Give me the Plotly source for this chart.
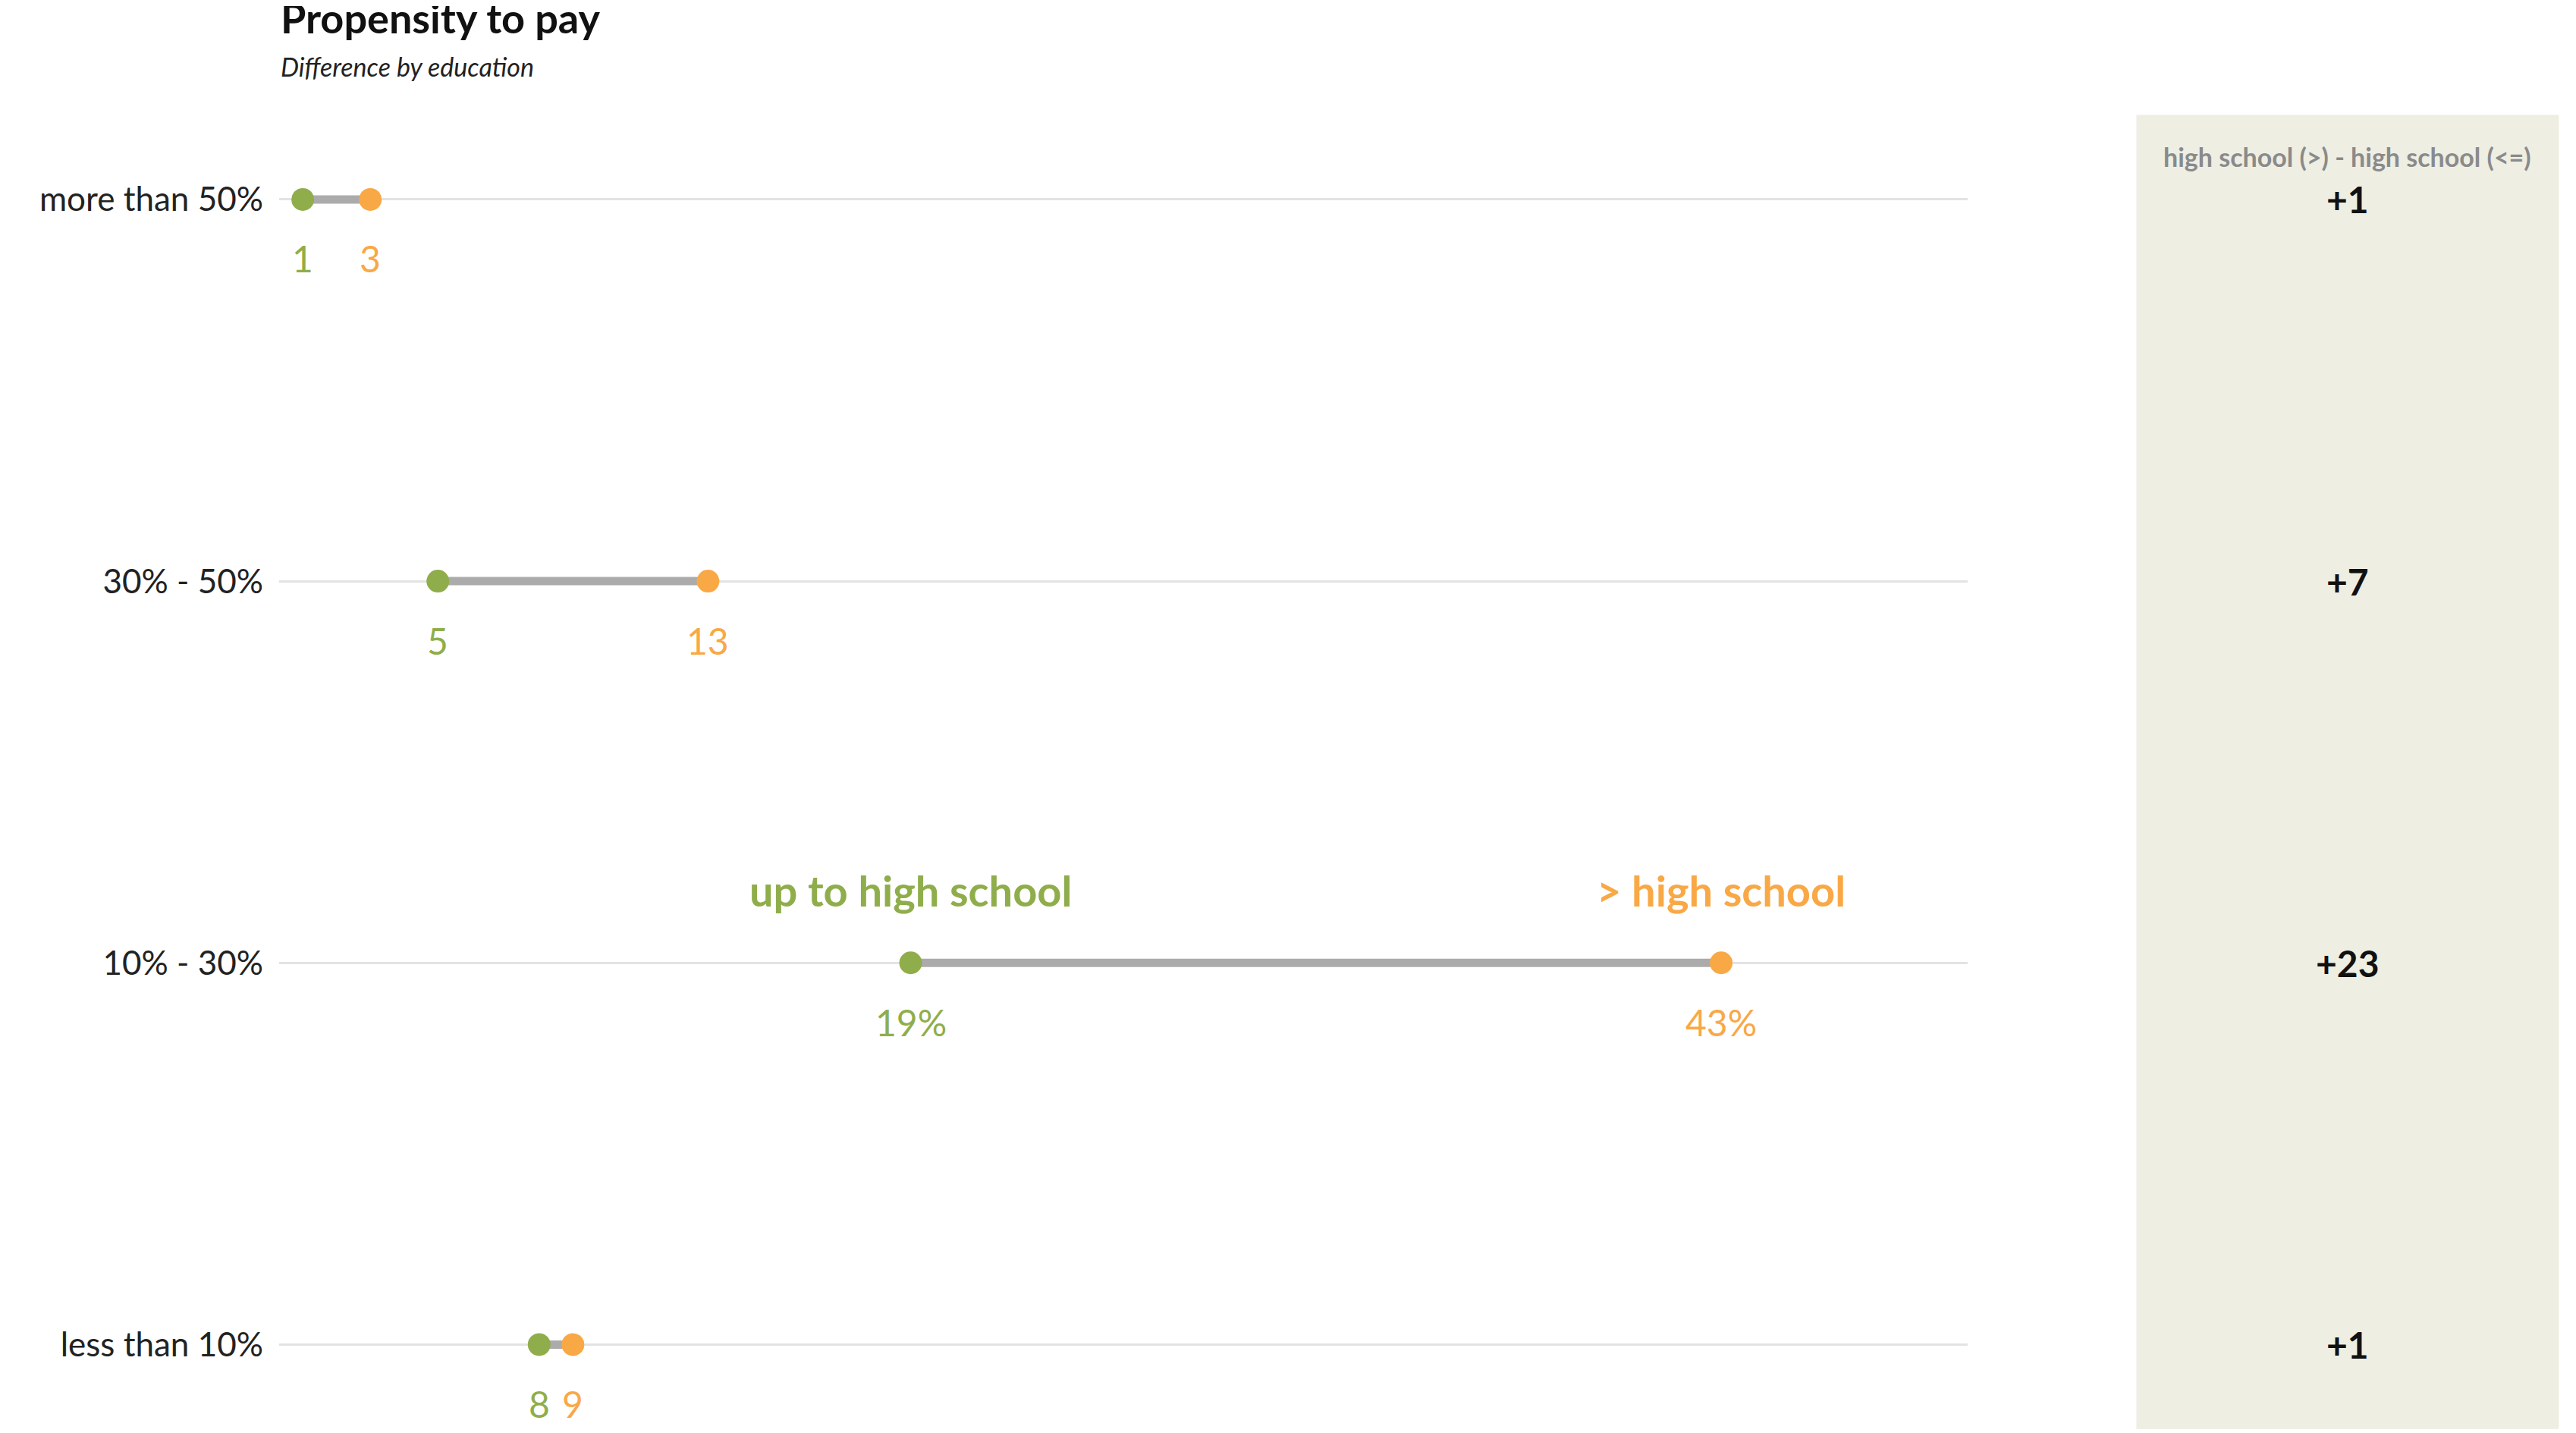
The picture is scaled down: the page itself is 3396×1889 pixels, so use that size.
import plotly.graph_objects as go

categories = ["less than 10%", "10% - 30%", "30% - 50%", "more than 50%"]
low_edu = [8, 19, 5, 1]      # up to high school
high_edu = [9, 43, 13, 3]    # > high school
low_labels = ["8", "19%", "5", "1"]
high_labels = ["9", "43%", "13", "3"]
diff_labels = ["+1", "+23", "+7", "+1"]

GREEN = "#8FAE4B"
ORANGE = "#F9A846"
FONT = "Lato"

fig = go.Figure()
yidx = list(range(len(categories)))
for i in yidx:
    fig.add_trace(go.Scatter(x=[low_edu[i], high_edu[i]], y=[i, i], mode="lines",
                             line=dict(color="#ABABAB", width=11), hoverinfo="skip", showlegend=False))
fig.add_trace(go.Scatter(x=low_edu, y=yidx, mode="markers", marker=dict(color=GREEN, size=30), showlegend=False))
fig.add_trace(go.Scatter(x=high_edu, y=yidx, mode="markers", marker=dict(color=ORANGE, size=30), showlegend=False))

ann = []
for i in yidx:
    ann.append(dict(x=low_edu[i], y=i, text=low_labels[i], showarrow=False, yshift=-78,
                    font=dict(color=GREEN, size=48, family=FONT)))
    ann.append(dict(x=high_edu[i], y=i, text=high_labels[i], showarrow=False, yshift=-78,
                    font=dict(color=ORANGE, size=48, family=FONT)))
    ann.append(dict(xref="paper", x=0.909, xanchor="center", y=i, text="<b>%s</b>" % diff_labels[i],
                    showarrow=False, font=dict(color="#111111", size=48, family=FONT)))
ann.append(dict(x=low_edu[1], y=1, text="<b>up to high school</b>", showarrow=False, yshift=96,
                font=dict(color=GREEN, size=56, family=FONT)))
ann.append(dict(x=high_edu[1], y=1, text="<b>> high school</b>", showarrow=False, yshift=96,
                font=dict(color=ORANGE, size=56, family=FONT)))
ann.append(dict(xref="paper", yref="paper", x=0.909, xanchor="center", y=0.895, yanchor="middle",
                text="<b>high school (>) - high school (<=)</b>",
                showarrow=False, font=dict(color="#8A8A8A", size=34, family=FONT)))
ann.append(dict(xref="paper", yref="paper", x=0.106, y=0.992, xanchor="left", yanchor="middle",
                text="<b>Propensity to pay</b>", showarrow=False, font=dict(color="#111111", size=54, family=FONT)))
ann.append(dict(xref="paper", yref="paper", x=0.106, y=0.958, xanchor="left", yanchor="middle",
                text="<i>Difference by education</i>", showarrow=False, font=dict(color="#222222", size=34, family=FONT)))

fig.update_layout(
    width=3396, height=1889, margin=dict(l=0, r=0, t=0, b=0),
    plot_bgcolor="white", paper_bgcolor="white",
    annotations=ann,
    shapes=[dict(type="rect", xref="paper", yref="paper", x0=0.827, x1=0.991, y0=0.007, y1=0.924,
                 fillcolor="#EEEEE3", line=dict(width=0), layer="below")],
    xaxis=dict(domain=[0.106, 0.7615], range=[0.3, 50.3], showgrid=False, zeroline=False,
               showticklabels=False),
    yaxis=dict(domain=[0.034, 0.897], range=[-0.12, 3.12], tickvals=yidx, ticktext=categories,
               showgrid=True, gridcolor="#E3E3E3", gridwidth=3, zeroline=False,
               tickfont=dict(size=44, family=FONT, color="#222222"), ticks="", ticklabelstandoff=20),
)
fig.write_html("out.html")
